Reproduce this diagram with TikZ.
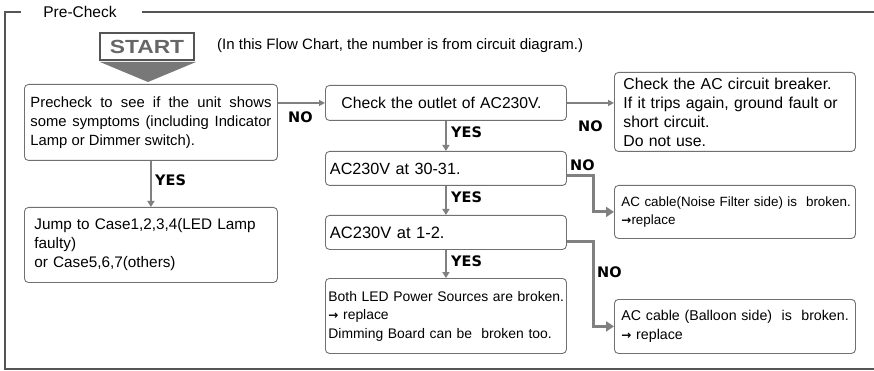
\documentclass[tikz,border=0pt]{standalone}
\usepackage{fontspec}
\setmainfont{Liberation Sans}
\newfontfamily\dejavu{DejaVu Sans}
\usetikzlibrary{arrows.meta}
\definecolor{lg}{HTML}{808080}
\definecolor{bd}{HTML}{707070}
\definecolor{fr}{HTML}{555555}
\tikzset{
  box/.style={draw=bd, line width=0.9pt, rounded corners=4pt, anchor=north west, inner ysep=0pt},
  fs/.style={font=\fontsize{#1}{19}\selectfont},
  fsm/.style={font=\fontsize{#1}{18.5}\selectfont},
  lbl/.style={font=\dejavu\bfseries\fontsize{14.5}{16}\selectfont, inner sep=0pt, anchor=west},
  yesarr/.style={draw=lg, line width=2pt, -{Triangle[width=7pt,length=6pt]}},
  noarr/.style={draw=lg, line width=1.6pt, -{Triangle[width=6pt,length=6pt]}},
  noarrthick/.style={draw=lg, line width=3pt, -{Triangle[width=10pt,length=8pt]}},
}
\newcommand{\rarr}{{\dejavu\bfseries\fontsize{12}{12}\selectfont →}}
\begin{document}
\begin{tikzpicture}[x=1pt,y=-1pt]
\useasboundingbox (0,0) rectangle (874,371);
% frame
\coordinate (f1) at (21,12);
\coordinate (f2) at (5,12);
\coordinate (f3) at (5,369);
\coordinate (f4) at (874,369);
\coordinate (f5) at (142,12);
\coordinate (f6) at (874,12);
\draw[fr, line width=1.3pt] (f1) -- (f2) -- (f3) -- (f4);
\draw[fr, line width=1.3pt] (f5) -- (f6);
\node[font=\fontsize{15.5}{16}\selectfont, inner sep=0pt] (title) at (80,12) {Pre-Check};
% start
\node[draw=fr, line width=1.3pt, minimum width=94pt, minimum height=27pt, inner sep=0pt,
      text=black!60, font=\bfseries\fontsize{19}{20}\selectfont] (start) at (147,46.5) {\scalebox{1.2}[1]{START}};
\fill[black!53] (100,62) -- (196,62) -- (148,82) -- cycle;
\node[fs=15, anchor=west, inner sep=0pt] (note) at (217,46) {(In this Flow Chart, the number is from circuit diagram.)};
% boxes
\node[box, fs=14.8, align=justify, text width=241pt, inner xsep=6pt, minimum height=76pt] (b1) at (24,84)
  {Precheck to see if the unit shows\linebreak some symptoms (including Indicator\linebreak Lamp or Dimmer switch).};
\node[box, fs=15.3, align=left, text width=233pt, inner xsep=10pt, minimum height=75pt] (b2) at (24,207)
  {Jump to Case1,2,3,4(LED Lamp\\faulty)\\or Case5,6,7(others)};
\node[box, fs=15.7, align=left, text width=209pt, inner xsep=16pt, minimum height=35pt] (b3) at (325,85)
  {Check the outlet of AC230V.};
\node[box, fs=16.2, align=left, text width=232pt, inner xsep=4.5pt, minimum height=34pt] (b4) at (325,151)
  {AC230V at 30-31.};
\node[box, fs=16.5, align=left, text width=232pt, inner xsep=4.5pt, minimum height=34pt] (b5) at (325,215)
  {AC230V at 1-2.};
\node[box, fsm=13.9, align=left, text width=235pt, inner xsep=3pt, minimum height=75pt] (b6) at (325,278)
  {\mbox{Both LED Power Sources are broken.}\\\rarr\ replace\\\mbox{Dimming Board can be\ \ broken too.}};
\node[box, fs=15.8, align=left, text width=223pt, inner xsep=9pt, minimum height=79pt] (b7) at (614,72)
  {Check the AC circuit breaker.\\If it trips again, ground fault or\\short circuit.\\Do not use.};
\node[box, fsm=13.4, align=left, text width=227pt, inner xsep=7pt, minimum height=53pt] (b8) at (614,185)
  {\mbox{AC cable(Noise Filter side) is\ \ broken.}\\\rarr replace};
\node[box, fsm=14.2, align=left, text width=227pt, inner xsep=7pt, minimum height=54pt] (b9) at (614,299)
  {\mbox{AC cable (Balloon side)\ \ is\ \ broken.}\\\rarr\ replace};
% connectors
\draw[yesarr] (b1.south) -- (b2.north);
\draw[yesarr] (b3.south) -- (b4.north);
\draw[yesarr] (b4.south) -- (b5.north);
\draw[yesarr] (b5.south) -- (b6.north);
\draw[noarr] (b1.east |- b3.west) -- (b3.west);
\draw[noarr] (b3.east) -- (b3.east -| b7.west);
\draw[noarrthick] ([yshift=-7pt]b4.east) -- ++(27,0) |- (b8.west);
\draw[noarrthick] ([yshift=-9pt]b5.east) -- ++(27,0) |- (b9.west);
% labels
\node[lbl] (y1) at (155,180) {YES};
\node[lbl] (y2) at (451,132) {YES};
\node[lbl] (y3) at (451,197) {YES};
\node[lbl] (y4) at (451,261) {YES};
\node[lbl] (n1) at (288,117) {NO};
\node[lbl] (n2) at (578,126) {NO};
\node[lbl] (n3) at (570,165) {NO};
\node[lbl] (n4) at (597,272) {NO};
\end{tikzpicture}
\end{document}
